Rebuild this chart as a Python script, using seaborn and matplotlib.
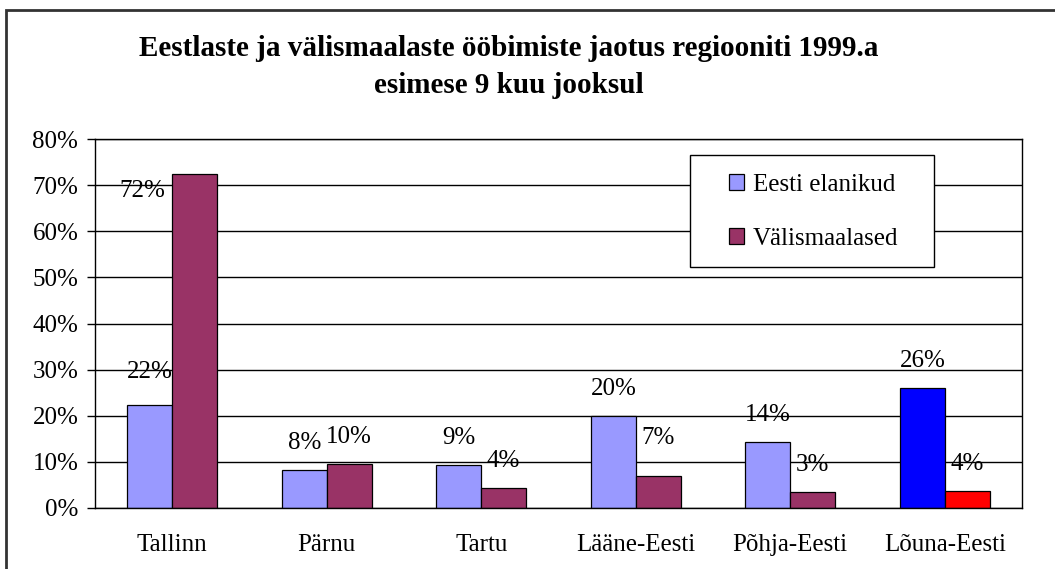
import pandas as pd
import matplotlib.pyplot as plt
import matplotlib.patches as mpatches
import seaborn as sns

# Data (share of nights spent, %)
regions = ['Tallinn', 'Pärnu', 'Tartu', 'Lääne-Eesti', 'Põhja-Eesti', 'Lõuna-Eesti']
eesti = [22.4, 8.2, 9.4, 20.0, 14.3, 26.0]
valis = [72.4, 9.5, 4.35, 7.0, 3.4, 3.6]
series = ['Eesti elanikud', 'Välismaalased']
title = 'Eestlaste ja välismaalaste ööbimiste jaotus regiooniti 1999.a\nesimese 9 kuu jooksul'

df = pd.DataFrame({
    'region': regions * 2,
    'group': [series[0]] * len(regions) + [series[1]] * len(regions),
    'value': eesti + valis,
})

sns.set_theme(style="white")
plt.rcParams['font.family'] = ['Liberation Serif', 'DejaVu Serif']
plt.rcParams['text.color'] = 'black'

fig = plt.figure(figsize=(10.55, 5.69), dpi=100)
ax = fig.add_axes([95 / 1055, 1 - 508 / 569, 927 / 1055, 369 / 569])

sns.barplot(data=df, x='region', y='value', hue='group', order=regions,
            hue_order=series, palette={series[0]: '#9999FF', series[1]: '#993366'},
            width=0.58, edgecolor='black', linewidth=0.9, saturation=1, ax=ax)

# highlighted last region
ax.containers[0][5].set_facecolor('#0000FF')
ax.containers[1][5].set_facecolor('#FF0000')

# value labels
special = {(1, 0): (-52, -17), (0, 0): (0, 33), (1, 3): (0, 38)}
for i, cont in enumerate(ax.containers):
    for j, p in enumerate(cont):
        h = p.get_height()
        dx, dy = special.get((i, j), (0, 27))
        ax.annotate(f"{int(h + 0.5)}%", (p.get_x() + p.get_width() / 2, h),
                    xytext=(dx, dy), textcoords='offset pixels',
                    ha='center', va='center', fontsize=18, color='black')

ax.set_ylim(0, 80)
ax.set_xlim(-0.5, 5.5)
ax.set_yticks(range(0, 81, 10))
ax.set_yticklabels([f"{v}%" for v in range(0, 81, 10)])
ax.set_xticks(range(len(regions)))
ax.set_xticks([k - 0.5 for k in range(len(regions) + 1)], minor=True)
ax.tick_params(axis='x', which='major', length=0, pad=19, labelsize=18, colors='black')
ax.tick_params(axis='x', which='minor', length=6, width=1, direction='out', color='black')
ax.tick_params(axis='y', length=6, width=1, direction='out', left=True, pad=6,
               labelsize=18, colors='black')
ax.set_xlabel('')
ax.set_ylabel('')
ax.yaxis.grid(True, color='black', linewidth=1)
ax.set_axisbelow(True)
for s in ax.spines.values():
    s.set_color('black')
    s.set_linewidth(1)

# legend
handles, labels = ax.get_legend_handles_labels()
ax.legend(handles, labels, loc='upper left', bbox_to_anchor=(0.684, 0.905),
          frameon=False, fontsize=18, handlelength=0.6, handleheight=0.6,
          handletextpad=0.35, labelspacing=1.27, borderpad=0, borderaxespad=0,
          labelcolor='black')
ax.get_legend().set_zorder(6)
box = mpatches.Rectangle((0.642, 0.653), 0.263, 0.3035, transform=ax.transAxes,
                         facecolor='white', edgecolor='black', linewidth=1,
                         zorder=5, clip_on=False)
ax.add_patch(box)

# chart area frame and title
frame = mpatches.Rectangle((6 / 1055, -0.1), 1.2, 1 - 10 / 569 + 0.1,
                           transform=fig.transFigure, fill=False,
                           edgecolor='#333333', linewidth=2)
fig.add_artist(frame)
fig.text(0.482, 1 - 67 / 569, title, ha='center', va='center', fontsize=21,
         fontweight='bold', linespacing=1.45, color='black')

fig.savefig('out.png', dpi=100)
